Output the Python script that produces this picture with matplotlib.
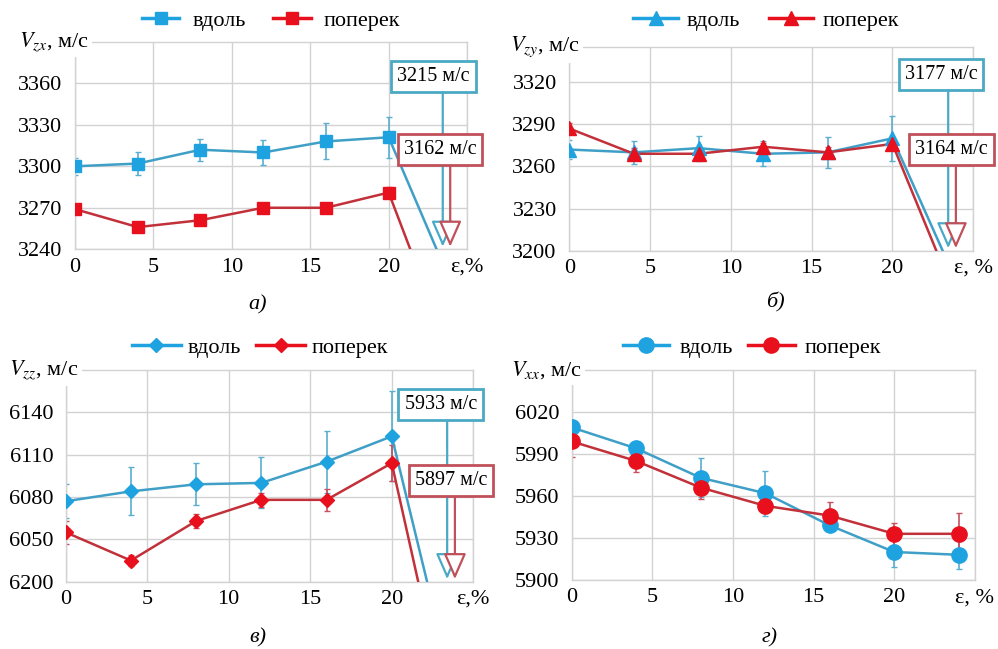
import matplotlib
matplotlib.use("Agg")
import matplotlib.pyplot as plt
from matplotlib import font_manager

# pick a Times-like serif that is really installed
serif = 'DejaVu Serif'
for name in ['Liberation Serif', 'Times New Roman', 'Nimbus Roman', 'STIXGeneral']:
    try:
        font_manager.findfont(font_manager.FontProperties(family=name),
                              fallback_to_default=False)
        serif = name
        break
    except ValueError:
        pass
plt.rcParams['font.family'] = [serif, 'DejaVu Serif']
plt.rcParams['mathtext.fontset'] = 'stix'

# strain, %
eps = [0, 4, 8, 12, 16, 20, 24]

# а) V_zx
zx_along = [3300, 3302, 3312, 3310, 3318, 3321, 3215]
zx_along_err = [6, 8, 8, 9, 13, 15]
zx_across = [3269, 3256, 3261, 3270, 3270, 3281, 3162]
zx_across_err = [3, 3, 3, 3, 3, 4]

# б) V_zy
zy_along = [3272, 3270, 3273, 3269, 3270, 3280, 3177]
zy_along_err = [7, 8, 9, 9, 11, 16]
zy_across = [3287, 3269, 3269, 3274, 3270, 3276, 3164]
zy_across_err = [4, 4, 3, 3, 4, 4]

# в) V_zz
zz_along = [6077, 6084, 6089, 6090, 6105, 6123, 5933]
zz_along_err = [12, 17, 15, 18, 22, 32]
zz_across = [6055, 6035, 6063, 6078, 6078, 6104, 5897]
zz_across_err = [8, 4, 5, 5, 8, 13]

# г) V_xx
xx_along = [6009, 5994, 5973, 5962, 5939, 5920, 5918]
xx_along_err = [5, 3, 14, 16, 4, 11, 10]
xx_across = [5999, 5985, 5966, 5953, 5946, 5933, 5933]
xx_across_err = [11, 8, 8, 5, 10, 8, 15]

BLUE_M = '#1fa3e0'
BLUE_L = '#3f9fc6'
RED_M = '#e8101c'
RED_L = '#c2303a'
BOX_BLUE = '#4aa9c4'
BOX_RED = '#c0505a'
GRID = '#d2d2d2'
FS = 16

fig = plt.figure(figsize=(9.98, 6.49), dpi=100)


def panel(rect, marker, ms, along, along_err, across, across_err, n_mark,
          ylim, yticks, ylabels, xlast, vlabel, label_x, leg_anchor, leg_kw):
    ax = fig.add_axes(rect)
    ax.plot(eps, along, color=BLUE_L, lw=1.8, zorder=3)
    ax.plot(eps, across, color=RED_L, lw=1.8, zorder=3)
    ax.errorbar(eps[:n_mark], along[:n_mark], yerr=along_err, fmt='none',
                ecolor='#5aaed0', elinewidth=1.2, capsize=2.5, zorder=2)
    ax.errorbar(eps[:n_mark], across[:n_mark], yerr=across_err, fmt='none',
                ecolor='#c85060', elinewidth=1.2, capsize=2.5, zorder=2)
    ax.plot(eps[:n_mark], along[:n_mark], lw=0, marker=marker, ms=ms,
            mfc=BLUE_M, mec=BLUE_M, zorder=4)
    ax.plot(eps[:n_mark], across[:n_mark], lw=0, marker=marker, ms=ms,
            mfc=RED_M, mec=RED_M, zorder=4)
    ax.set_xlim(0, 25)
    ax.set_ylim(*ylim)
    ax.set_xticks([0, 5, 10, 15, 20, 25])
    ax.set_xticklabels(['0', '5', '10', '15', '20', xlast])
    ax.set_yticks(yticks)
    ax.set_yticklabels(ylabels)
    ax.tick_params(length=0, labelsize=FS)
    ax.tick_params(axis='y', pad=9)
    ax.tick_params(axis='x', pad=6)
    ax.grid(True, color=GRID, lw=1)
    for s in ax.spines.values():
        s.set_color(GRID)
        s.set_linewidth(1)
    ax.text(label_x, 1.0, vlabel, transform=ax.transAxes, ha='right',
            va='center', fontsize=FS,
            bbox=dict(fc='white', ec='none', pad=2.5), zorder=10, clip_on=False)
    # legend handles with visible line
    lh1, = ax.plot([], [], color=BLUE_M, lw=2.5, marker=marker, ms=ms, mfc=BLUE_M, mec=BLUE_M)
    lh2, = ax.plot([], [], color=RED_M, lw=2.5, marker=marker, ms=ms, mfc=RED_M, mec=RED_M)
    ax.legend([lh1, lh2], ['вдоль', 'поперек'], loc='center',
              bbox_to_anchor=leg_anchor, ncol=2, frameon=False, fontsize=FS,
              borderaxespad=0, **leg_kw)
    return ax


def callout(ax, text, box_xy, shaft_x, color, z):
    ax.annotate('', xy=(shaft_x, 0.012), xytext=(shaft_x, box_xy[1]),
                xycoords='axes fraction', textcoords='axes fraction',
                arrowprops=dict(arrowstyle='-|>,head_length=1.6,head_width=0.7',
                                fc='white', ec=color, lw=1.6, shrinkA=0, shrinkB=0,
                                mutation_scale=10),
                annotation_clip=False, zorder=z)
    ax.text(box_xy[0], box_xy[1], text, transform=ax.transAxes, ha='center',
            va='center', fontsize=14.5, zorder=z + 1, clip_on=False,
            bbox=dict(boxstyle='square,pad=0.3', fc='white', ec=color, lw=2))


# а)
ax_a = panel([0.0752, 0.616, 0.3928, 0.3194], 's', 9,
             zx_along, zx_along_err, zx_across, zx_across_err, 6,
             (3240, 3390), [3240, 3270, 3300, 3330, 3360],
             ['3240', '3270', '3300', '3330', '3360'], 'ε,%',
             r'$V_{zx}$, м/с', 0.035, (0.5, 1.103),
             dict(handlelength=1.7, handletextpad=0.6, columnspacing=1.2))
callout(ax_a, '3215 м/с', (0.915, 0.834), 0.938, BOX_BLUE, 6)
callout(ax_a, '3162 м/с', (0.931, 0.481), 0.957, BOX_RED, 8)

# б)
ax_b = panel([0.5704, 0.6137, 0.4048, 0.3139], '^', 9.5,
             zy_along, zy_along_err, zy_across, zy_across_err, 6,
             (3200, 3345), [3200, 3230, 3260, 3290, 3320],
             ['3200', '3230', '3260', '3290', '3320'], 'ε, %',
             r'$V_{zy}$, м/с', 0.026, (0.487, 1.13),
             dict(handlelength=2.0, handletextpad=0.4, columnspacing=1.3))
callout(ax_b, '3177 м/с', (0.92, 0.866), 0.938, BOX_BLUE, 6)
callout(ax_b, '3164 м/с', (0.946, 0.497), 0.957, BOX_RED, 8)

# в)
ax_c = panel([0.0658, 0.1037, 0.4084, 0.3262], 'D', 7,
             zz_along, zz_along_err, zz_across, zz_across_err, 6,
             (6020, 6170), [6020, 6050, 6080, 6110, 6140],
             ['6200', '6050', '6080', '6110', '6140'], 'ε,%',
             r'$V_{zz}$, м/с', 0.031, (0.477, 1.104),
             dict(handlelength=2.2, handletextpad=0.3, columnspacing=0.7))
callout(ax_c, '5933 м/с', (0.92, 0.835), 0.936, BOX_BLUE, 6)
callout(ax_c, '5897 м/с', (0.945, 0.48), 0.955, BOX_RED, 8)

# г)
ax_d = panel([0.5728, 0.1063, 0.4041, 0.3236], 'o', 11,
             xx_along, xx_along_err, xx_across, xx_across_err, 7,
             (5900, 6050), [5900, 5930, 5960, 5990, 6020],
             ['5900', '5930', '5960', '5990', '6020'], 'ε, %',
             r'$V_{xx}$, м/с', 0.025, (0.447, 1.105),
             dict(handlelength=2.1, handletextpad=0.45, columnspacing=0.7))

for txt, x, y in [('а)', 0.2585, 0.530), ('б)', 0.7766, 0.5347),
                  ('в)', 0.2585, 0.017), ('г)', 0.7715, 0.017)]:
    fig.text(x, y, txt, ha='center', va='center', fontsize=FS, style='italic')

fig.savefig('out.png', dpi=100)
